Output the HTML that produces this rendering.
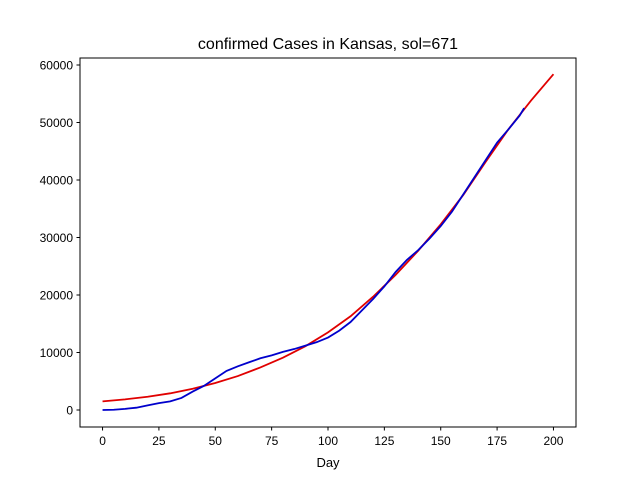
<!DOCTYPE html>
<html><head><meta charset="utf-8"><style>
body{margin:0;background:#fff;}
svg{display:block;font-family:"Liberation Sans","DejaVu Sans",sans-serif;}
</style></head><body>
<svg id="chart" width="640" height="480">
<rect width="640" height="480" fill="#fff"/>
<text x="328" y="49" text-anchor="middle" font-size="16">confirmed Cases in Kansas, sol=671</text>
<g id="plot"></g>
<rect x="80" y="58" width="496" height="369" fill="none" stroke="#000" stroke-width="1"/>
<text x="328" y="467" text-anchor="middle" font-size="13">Day</text>
</svg>
<script>
const xTicks=[0,25,50,75,100,125,150,175,200];
const yTicks=[0,10000,20000,30000,40000,50000,60000];
const fitDays=[0,10,20,30,40,50,60,70,80,90,100,110,120,130,140,150,160,170,180,190,200];
const fitValues=[1500,1850,2300,2900,3700,4700,5900,7400,9100,11100,13500,16300,19700,23500,27700,32300,37400,43200,48800,53800,58400];
const dataDays=[0,5,10,15,20,25,30,35,40,45,50,55,60,65,70,75,80,85,90,95,100,105,110,115,120,125,130,135,140,145,150,155,160,165,170,175,180,185,187];
const dataValues=[0,50,200,400,800,1200,1500,2100,3200,4200,5500,6800,7600,8300,9000,9500,10100,10600,11200,11800,12600,13800,15300,17300,19300,21500,24000,26100,27800,29800,32000,34500,37500,40500,43500,46500,48800,51200,52500];
const X=d=>80+(d+10)*(496/220);
const Y=v=>410-v*0.00575;
const ns="http://www.w3.org/2000/svg";
const g=document.getElementById('plot');
function mk(t,a){const e=document.createElementNS(ns,t);for(const k in a)e.setAttribute(k,a[k]);return e;}
xTicks.forEach(t=>{
 const l=mk('line',{x1:X(t),x2:X(t),y1:427,y2:430.5,stroke:'#000'});
 
 
 g.appendChild(l);
 const tx=mk('text',{x:X(t),y:445,'text-anchor':'middle','font-size':'12'});
 tx.textContent=t;
 
 
 g.appendChild(tx);
});
yTicks.forEach(t=>{
 const l=mk('line',{x1:76.5,x2:80,y1:Y(t),y2:Y(t),stroke:'#000'});
 
 
 g.appendChild(l);
 const tx=mk('text',{x:73,y:Y(t)+4.5,'text-anchor':'end','font-size':'12'});
 tx.textContent=t;
 
 
 g.appendChild(tx);
});
const fit=mk('polyline',{points:fitDays.map((d,i)=>X(d)+','+Y(fitValues[i])).join(' '),fill:'none',stroke:'#e00000','stroke-width':'1.8'});


g.appendChild(fit);
const dat=mk('polyline',{points:dataDays.map((d,i)=>X(d)+','+Y(dataValues[i])).join(' '),fill:'none',stroke:'#0000cc','stroke-width':'1.8'});


g.appendChild(dat);
</script>
</body></html>
